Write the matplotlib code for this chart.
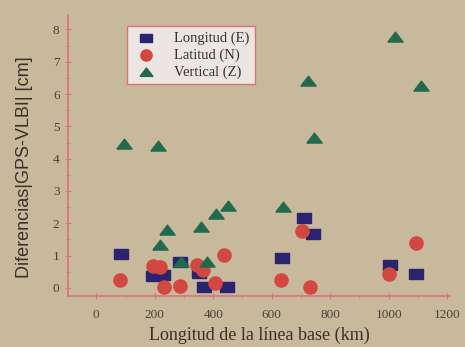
"""Diferencias GPS-VLBI frente a la longitud de la linea base."""

import matplotlib
matplotlib.use('Agg')
import matplotlib.pyplot as plt
from matplotlib.ticker import MultipleLocator

# Longitud (E)
lon_x = [85, 195, 229, 287, 350, 368, 447, 635, 712, 740, 1005, 1092]
lon_y = [1.05, 0.38, 0.40, 0.80, 0.45, 0.04, 0.04, 0.93, 2.15, 1.68, 0.72, 0.42]
# Latitud (N)
lat_x = [82, 195, 218, 230, 287, 345, 366, 405, 438, 632, 704, 730, 1002, 1092]
lat_y = [0.24, 0.68, 0.65, 0.03, 0.05, 0.72, 0.56, 0.15, 1.02, 0.24, 1.76, 0.04, 0.43, 1.40]
# Vertical (Z)
ver_x = [95, 212, 217, 241, 290, 358, 378, 410, 452, 638, 723, 745, 1020, 1112]
ver_y = [4.47, 4.38, 1.32, 1.78, 0.80, 1.90, 0.80, 2.28, 2.53, 2.52, 6.40, 4.65, 7.78, 6.26]

BG = '#c8b99c'
SPINE = '#d9737a'
TEXT = '#3a3028'

# slightly flattened markers, as in the scanned figure
RECT = [(-1, -0.72), (1, -0.72), (1, 0.72), (-1, 0.72), (-1, -0.72)]
TRI = [(-1, -0.6), (1, -0.6), (0, 0.7), (-1, -0.6)]

fig = plt.figure(figsize=(4.65, 3.47), dpi=100, facecolor=BG)
ax = fig.add_axes([0.146, 0.147, 0.822, 0.81], facecolor=BG)

ax.scatter(lon_x, lon_y, marker=RECT, s=100, color='#2a2370', label='Longitud (E)', zorder=3)
ax.scatter(lat_x, lat_y, marker='o', s=90, color='#d2473f', label='Latitud (N)', zorder=3)
ax.scatter(ver_x, ver_y, marker=TRI, s=120, color='#226a4e', label='Vertical (Z)', zorder=3)

ax.set_xlim(-97, 1210)
ax.set_ylim(-0.25, 8.45)
ax.xaxis.set_major_locator(MultipleLocator(200))
ax.xaxis.set_minor_locator(MultipleLocator(100))
ax.yaxis.set_major_locator(MultipleLocator(1))
ax.yaxis.set_minor_locator(MultipleLocator(0.5))

for side in ('top', 'right'):
    ax.spines[side].set_visible(False)
for side in ('left', 'bottom'):
    ax.spines[side].set_color(SPINE)
    ax.spines[side].set_linewidth(1.2)

ax.tick_params(which='major', direction='inout', length=5, color=SPINE,
               labelsize=9.5, labelcolor='#4a4038')
ax.tick_params(axis='x', which='major', pad=7)
ax.tick_params(which='minor', direction='inout', length=3, color=SPINE)
for lab in ax.get_xticklabels() + ax.get_yticklabels():
    lab.set_family('Liberation Serif')

ax.set_xlabel('Longitud de la línea base (km)', family='Liberation Serif',
              fontsize=13, color=TEXT)
ax.xaxis.set_label_coords(0.5, -0.11)
ax.set_ylabel('Diferencias|GPS-VLBI| [cm]', family='Liberation Sans',
              fontsize=13, color=TEXT)
ax.yaxis.set_label_coords(-0.09, 0.46)

leg = ax.legend(loc='upper left', bbox_to_anchor=(0.135, 0.985),
                prop={'family': 'Liberation Serif', 'size': 10.5},
                frameon=True, fancybox=False, borderpad=0.35,
                handletextpad=0.9, labelspacing=0.25, scatterpoints=1,
                markerscale=0.85)
leg.get_frame().set_edgecolor(SPINE)
leg.get_frame().set_facecolor('#ebe6e2')
leg.get_frame().set_alpha(1)
for t in leg.get_texts():
    t.set_color(TEXT)

fig.savefig('out.png', dpi=100, facecolor=BG)
